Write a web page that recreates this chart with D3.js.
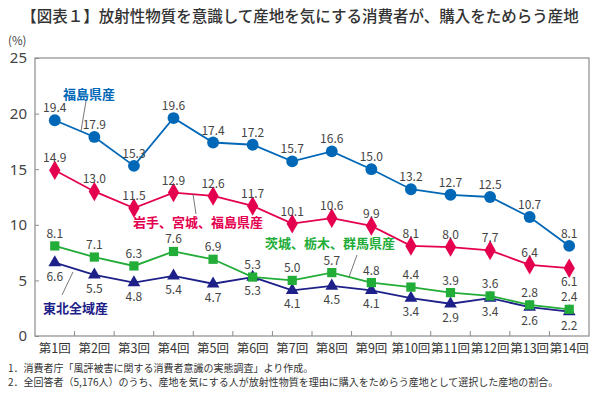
<!DOCTYPE html>
<html>
<head>
<meta charset="utf-8">
<script src="https://cdn.jsdelivr.net/npm/d3@7"></script>
<style>
body{margin:0;background:#fff;font-family:"Noto Sans CJK JP","Noto Sans",sans-serif;}
</style>
</head>
<body>
<div id="chart"></div>
<script>
const rounds=["第1回","第2回","第3回","第4回","第5回","第6回","第7回","第8回","第9回","第10回","第11回","第12回","第13回","第14回"];
const fukushima=[19.4,17.9,15.3,19.6,17.4,17.2,15.7,16.6,15.0,13.2,12.7,12.5,10.7,8.1];
const iwateMiyagiFukushima=[14.9,13.0,11.5,12.9,12.6,11.7,10.1,10.6,9.9,8.1,8.0,7.7,6.4,6.1];
const ibarakiTochigiGunma=[8.1,7.1,6.3,7.6,6.9,5.3,5.0,5.7,4.8,4.4,3.9,3.6,2.8,2.4];
const tohokuAll=[6.6,5.5,4.8,5.4,4.7,5.3,4.1,4.5,4.1,3.4,2.9,3.4,2.6,2.2];
const yTicks=[0,5,10,15,20,25];

const w=600,h=397;
const m={l:35,r:11,t:58,b:61};

const svg=d3.select("#chart").append("svg").attr("width",w).attr("height",h);

svg.append("text")
   .text("【図表１】放射性物質を意識して産地を気にする消費者が、購入をためらう産地")
   .attr("x",300).attr("y",22)
   .attr("text-anchor","middle")
   .attr("font-size",15.5)
   .attr("font-weight",500)
   .attr("fill","#333");

const xScale=d3.scaleBand().domain(rounds).range([m.l,w-m.r]);
const yScale=d3.scaleLinear().domain([0,25]).range([h-m.b,m.t]);

// frame
svg.append("rect")
   .attr("x",m.l).attr("y",m.t)
   .attr("width",w-m.r-m.l).attr("height",h-m.b-m.t)
   .attr("fill","none").attr("stroke","#8c8c8c").attr("stroke-width",1.2);

// y axis
const yAxis=svg.append("g").attr("transform",`translate(${m.l},0)`)
   .call(d3.axisLeft(yScale).tickValues(yTicks).tickSize(-4).tickPadding(8));
yAxis.select(".domain").remove();
yAxis.selectAll("line").attr("stroke","#8c8c8c");
yAxis.selectAll("text").attr("font-size",15).attr("fill","#444").attr("font-family","Noto Sans,sans-serif");

svg.append("text").text("(%)").attr("x",8).attr("y",45).attr("font-size",11.5).attr("fill","#444");

// x axis: ticks between bands
const xg=svg.append("g").attr("transform",`translate(0,${h-m.b})`);
xg.selectAll("line").data(rounds.slice(1)).enter().append("line")
  .attr("x1",d=>xScale(d)).attr("x2",d=>xScale(d))
  .attr("y1",0).attr("y2",-5).attr("stroke","#8c8c8c");
xg.selectAll("text").data(rounds).enter().append("text")
  .text(d=>d)
  .attr("x",d=>xScale(d)+xScale.bandwidth()/2)
  .attr("y",17)
  .attr("text-anchor","middle")
  .attr("font-size",12.5)
  .attr("fill","#333");

const cx=d=>xScale(d)+xScale.bandwidth()/2;

const series=[
  {vals:fukushima,color:"#0068b7",shape:d3.symbolCircle,size:110,pos:rounds.map(()=>-1)},
  {vals:iwateMiyagiFukushima,color:"#e5004f",shape:d3.symbolDiamond,size:110,pos:rounds.map((r,i)=>i==13?1:-1)},
  {vals:ibarakiTochigiGunma,color:"#22ac38",shape:d3.symbolSquare,size:85,pos:rounds.map(()=>-1)},
  {vals:tohokuAll,color:"#1d2088",shape:d3.symbolTriangle,size:70,pos:rounds.map(()=>1)}
];

const line=d3.line().x((d,i)=>cx(rounds[i])).y(d=>yScale(d));

// draw lower series first
series.slice().reverse().forEach(s=>{
  svg.append("path").datum(s.vals).attr("d",line)
     .attr("fill","none").attr("stroke",s.color).attr("stroke-width",1.8);
  svg.selectAll(null).data(s.vals).enter().append("path")
     .attr("d",d3.symbol().type(s.shape).size(s.size))
     .attr("transform",(d,i)=>`translate(${cx(rounds[i])},${yScale(d)})`)
     .attr("fill",s.color);
});

series.forEach(s=>{
  svg.selectAll(null).data(s.vals).enter().append("text")
     .text(d=>d.toFixed(1))
     .attr("x",(d,i)=>cx(rounds[i]))
     .attr("y",(d,i)=>yScale(d)+(s.pos[i]<0?-8:18))
     .attr("text-anchor","middle")
     .attr("font-size",12)
     .attr("fill","#444");
});

// series names with leader lines
const names=[
  {text:"福島県産",color:"#0068b7",x:63,y:99,l:[86,101,81,131]},
  {text:"岩手、宮城、福島県産",color:"#e5004f",x:133,y:227,l:[193,194,196,214]},
  {text:"茨城、栃木、群馬県産",color:"#22ac38",x:265,y:248,l:[357,255,349,277]},
  {text:"東北全域産",color:"#1d2088",x:43,y:313,l:[73,272,62,295]}
];
names.forEach(n=>{
  svg.append("line").attr("x1",n.l[0]).attr("y1",n.l[1]).attr("x2",n.l[2]).attr("y2",n.l[3])
     .attr("stroke","#555").attr("stroke-width",0.8);
  svg.append("text").text(n.text).attr("x",n.x).attr("y",n.y)
     .attr("font-size",13).attr("font-weight",700).attr("fill",n.color);
});

// notes
svg.append("text").text("1．消費者庁「風評被害に関する消費者意識の実態調査」より作成。")
   .attr("x",8).attr("y",372).attr("font-size",10).attr("fill","#333");
svg.append("text").text("2．全回答者（5,176人）のうち、産地を気にする人が放射性物質を理由に購入をためらう産地として選択した産地の割合。")
   .attr("x",8).attr("y",386).attr("font-size",10).attr("fill","#333");
</script>
</body>
</html>
